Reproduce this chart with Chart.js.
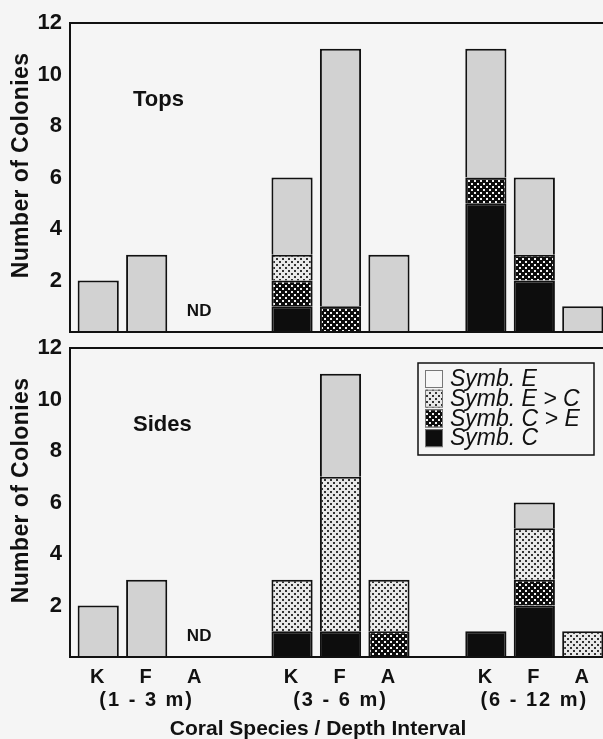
<!DOCTYPE html>
<html>
<head>
<meta charset="utf-8">
<title>Symbiont types by coral species and depth</title>
<script src="https://cdn.jsdelivr.net/npm/chart.js@4.4.1/dist/chart.umd.min.js"></script>
<style>
  html, body { margin: 0; padding: 0; background: #f5f5f5; overflow: hidden; }
  #wrap { position: relative; width: 603px; height: 739px; overflow: hidden; }
  .panel { position: absolute; left: 0; width: 607px; }
  #tops { top: 0; height: 345px; }
  #sides { top: 335px; height: 404px; }
</style>
</head>
<body>
<div id="wrap">
  <div class="panel" id="tops"><canvas id="topsChart"></canvas></div>
  <div class="panel" id="sides"><canvas id="sidesChart"></canvas></div>
</div>
<script>
// categories along the x axis, blank slots separate the depth groups
const categories = ['K', 'F', 'A', '', 'K', 'F', 'A', '', 'K', 'F', 'A'];
const depthLabels = ['(1 - 3 m)', '(3 - 6 m)', '(6 - 12 m)'];
const seriesNames = ['Symb. C', 'Symb. C > E', 'Symb. E > C', 'Symb. E'];
const yTicks = [2, 4, 6, 8, 10, 12];
const ndIndex = 2; // A at 1 - 3 m, no data

// Tops
const topsC  = [0, 0, 0, null, 1, 0, 0, null, 5, 2, 0];
const topsCE = [0, 0, 0, null, 1, 1, 0, null, 1, 1, 0];
const topsEC = [0, 0, 0, null, 1, 0, 0, null, 0, 0, 0];
const topsE  = [2, 3, 0, null, 3, 10, 3, null, 5, 3, 1];

// Sides
const sidesC  = [0, 0, 0, null, 1, 1, 0, null, 1, 2, 0];
const sidesCE = [0, 0, 0, null, 0, 0, 1, null, 0, 1, 0];
const sidesEC = [0, 0, 0, null, 2, 6, 2, null, 0, 2, 1];
const sidesE  = [2, 3, 0, null, 0, 4, 0, null, 0, 1, 0];

const FONT = "'Liberation Sans', Arial, Helvetica, sans-serif";
Chart.defaults.font.family = FONT;
Chart.defaults.color = '#111';

function dotPattern(bg, dot, w, h, size) {
  const c = document.createElement('canvas');
  c.width = w;
  c.height = h;
  const g = c.getContext('2d');
  g.fillStyle = bg;
  g.fillRect(0, 0, w, h);
  g.fillStyle = dot;
  g.fillRect(0, 0, size, size);
  g.fillRect(w / 2, h / 2, size, size);
  return g.createPattern(c, 'repeat');
}

const fills = [
  '#0d0d0d',
  dotPattern('#0d0d0d', '#f2f2f2', 6, 6, 2),
  dotPattern('#e8e8e8', '#333', 6, 6, 2),
  '#d2d2d2'
];
// the legend shows Symb. E as an open box
const legendFills = [fills[0], fills[1], fills[2], '#f7f7f7'];

function makeDatasets(series) {
  return series.map((data, i) => ({
    label: seriesNames[i],
    data: data,
    backgroundColor: fills[i],
    borderColor: '#111',
    borderWidth: 2,
    stack: 'all'
  }));
}

const decor = {
  id: 'decor',
  beforeDraw(chart) {
    chart.ctx.letterSpacing = '0px';
  },
  afterDatasetsDraw(chart) {
    const { ctx, chartArea: a } = chart;
    ctx.save();
    ctx.strokeStyle = '#111';
    ctx.lineWidth = 2;
    ctx.beginPath();
    ctx.moveTo(chart.width, a.top);
    ctx.lineTo(a.left - 4, a.top);
    ctx.lineTo(a.left - 4, a.bottom);
    ctx.lineTo(chart.width, a.bottom);
    ctx.stroke();
    ctx.restore();
    ctx.letterSpacing = '2px'; // for the x tick labels drawn next
  },
  afterDraw(chart, args, opts) {
    const { ctx, chartArea: a } = chart;
    const x = chart.scales.x;
    const y = chart.scales.y;
    ctx.save();
    ctx.fillStyle = '#111';
    ctx.textBaseline = 'middle';

    // y title
    ctx.save();
    ctx.font = 'bold 23px ' + FONT;
    ctx.letterSpacing = '0.4px';
    ctx.textAlign = 'center';
    ctx.translate(22, (a.top + a.bottom) / 2 - 12);
    ctx.rotate(-Math.PI / 2);
    ctx.fillText('Number of Colonies', 0, 0);
    ctx.restore();

    // panel name
    ctx.font = 'bold 22px ' + FONT;
    ctx.letterSpacing = '0px';
    ctx.textAlign = 'left';
    ctx.fillText(opts.name, a.left + 59, y.getPixelForValue(9));

    // no data mark
    ctx.font = 'bold 17px ' + FONT;
    ctx.textAlign = 'center';
    ctx.fillText('ND', x.getPixelForValue(ndIndex) + 4, a.bottom - 21);

    if (opts.xTitle) {
      ctx.font = 'bold 21px ' + FONT;
      ctx.fillText(opts.xTitle, a.left + 244, a.bottom + 72);
    }

    if (opts.legend) {
      const left = a.right - 189;
      const top = a.top + 15;
      ctx.strokeStyle = '#111';
      ctx.lineWidth = 1.5;
      ctx.strokeRect(left, top, 176, 92);
      ctx.font = 'italic 23px ' + FONT;
      ctx.textAlign = 'left';
      const ds = chart.data.datasets;
      for (let r = 0; r < ds.length; r++) {
        const i = ds.length - 1 - r;
        const cy = top + 16 + r * 19.7;
        ctx.fillStyle = legendFills[i];
        ctx.fillRect(left + 7, cy - 9, 18, 18);
        ctx.strokeStyle = '#777';
        ctx.lineWidth = 1;
        ctx.strokeRect(left + 7.5, cy - 8.5, 17, 17);
        ctx.fillStyle = '#111';
        ctx.fillText(ds[i].label, left + 32, cy + 1);
      }
    }
    ctx.restore();
    ctx.letterSpacing = '0px';
  }
};

function makeChart(id, series, opts) {
  return new Chart(document.getElementById(id), {
    type: 'bar',
    data: { labels: categories, datasets: makeDatasets(series) },
    options: {
      responsive: true,
      maintainAspectRatio: false,
      animation: false,
      events: [],
      layout: { padding: { top: opts.padTop, right: 0, bottom: 0, left: 0 } },
      datasets: { bar: { categoryPercentage: 1, barPercentage: 0.85 } },
      plugins: {
        legend: { display: false },
        tooltip: { enabled: false },
        decor: opts
      },
      scales: {
        x: {
          stacked: true,
          offset: true,
          grid: { display: false },
          border: { display: false },
          afterFit(scale) {
            scale.height = opts.xHeight;
            scale.paddingLeft = 0;
            scale.paddingRight = 0;
          },
          ticks: {
            display: opts.showTicks,
            z: 1,
            autoSkip: false,
            maxRotation: 0,
            padding: 1,
            font: { size: 20, weight: 'bold', lineHeight: 1.15 },
            callback(value, i) {
              const c = categories[i];
              return c === 'F' ? [c, depthLabels[Math.floor(i / 4)]] : c;
            }
          }
        },
        y: {
          stacked: true,
          min: 0,
          max: 12,
          grid: { display: false, drawTicks: false },
          border: { display: false },
          afterFit(scale) {
            scale.width = 74;
            scale.paddingTop = 0;
            scale.paddingBottom = 0;
          },
          afterBuildTicks(scale) {
            scale.ticks = yTicks.map(v => ({ value: v }));
          },
          ticks: {
            padding: 12,
            font: { size: 22, weight: 'bold' }
          }
        }
      }
    },
    plugins: [decor]
  });
}

makeChart('topsChart', [topsC, topsCE, topsEC, topsE], {
  name: 'Tops', padTop: 23, xHeight: 13, showTicks: false, legend: false
});
makeChart('sidesChart', [sidesC, sidesCE, sidesEC, sidesE], {
  name: 'Sides', padTop: 13, xHeight: 82, showTicks: true, legend: true,
  xTitle: 'Coral Species / Depth Interval'
});
</script>
</body>
</html>
